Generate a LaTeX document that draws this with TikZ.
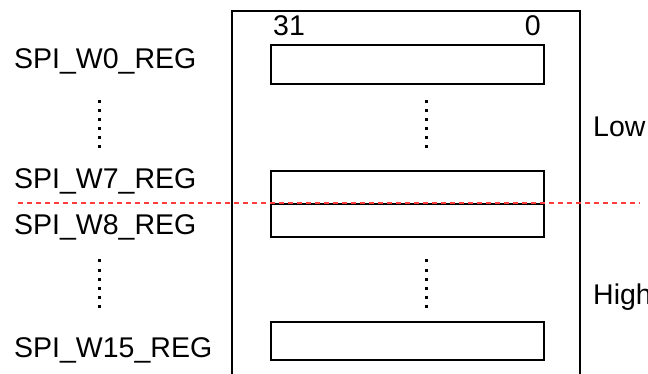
\documentclass[tikz,border=0pt]{standalone}
\usepackage{fontspec}
\setmainfont{Liberation Sans}
\usetikzlibrary{positioning}

\begin{document}
\begin{tikzpicture}[
    x=1pt, y=-1pt,
    reg/.style={draw, line width=2pt, minimum width=273pt, inner sep=0pt, anchor=north west},
    regname/.style={anchor=base west, inner sep=0pt, font=\fontsize{28.5}{32}\selectfont},
    bitnum/.style={inner sep=0pt, font=\fontsize{28.5}{32}\selectfont},
    vdots/.style={line width=3pt, dash pattern=on 3pt off 6pt},
    split/.style={draw={rgb,255:red,255;green,60;blue,60}, line width=2.5pt, dash pattern=on 5pt off 4pt}
]
\useasboundingbox (0,0) rectangle (648,374);
% frame of the buffer
\draw[line width=2pt] (232,380) -- (232,11) -- (580,11) -- (580,380);

% registers
\node[reg, minimum height=39pt] (w0) at (270,44) {};
\node[reg, minimum height=33pt] (w7) at (270,170) {};
\node[reg, minimum height=33pt] (w8) at (270,203) {};
\node[reg, minimum height=38pt] (w15) at (270,321) {};

\node[bitnum, anchor=base west] (msb) at (273,36) {31};
\node[bitnum, anchor=base east] (lsb) at (541,36) {0};

% register names
\node[regname] (lw0) at (14,69) {SPI\_W0\_REG};
\node[regname] (lw7) at (14,189) {SPI\_W7\_REG};
\node[regname] (lw8) at (14,235) {SPI\_W8\_REG};
\node[regname] (lw15) at (14,357) {SPI\_W15\_REG};

% dots
\coordinate (dla) at (99,100.5);
\coordinate (dlb) at (99,150);
\coordinate (dlc) at (99,259.5);
\coordinate (dld) at (99,309);
\coordinate (dra) at (426,100.5);
\coordinate (drb) at (426,150);
\coordinate (drc) at (426,259.5);
\coordinate (drd) at (426,309);
\draw[vdots] (dla) -- (dlb);
\draw[vdots] (dlc) -- (dld);
\draw[vdots] (dra) -- (drb);
\draw[vdots] (drc) -- (drd);

% low / high split
\coordinate (sa) at (18,203);
\coordinate (sb) at (640,203);
\draw[split] (sa) -- (sb);
\node[regname] (low) at (593,137) {Low};
\node[regname] (high) at (593,304) {High};
\end{tikzpicture}
\end{document}
